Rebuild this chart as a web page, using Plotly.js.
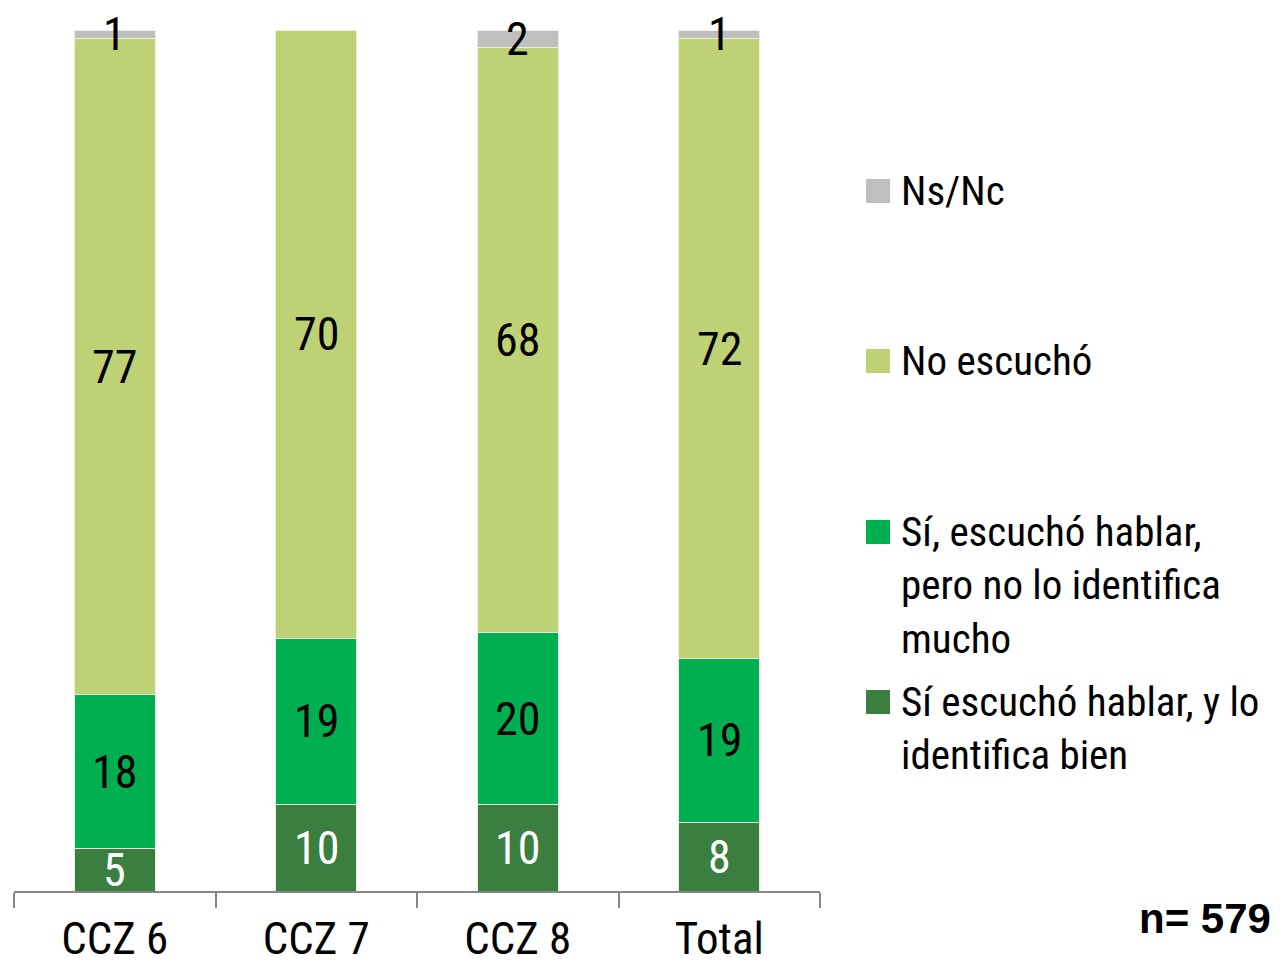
<!DOCTYPE html>
<html>
<head>
<meta charset="utf-8">
<script src="https://cdn.plot.ly/plotly-3.0.1.min.js"></script>
<style>html,body{margin:0;padding:0;background:#fff;}#chart{width:1282px;height:971px;}</style>
</head>
<body>
<div id="chart"></div>
<script>
const categories = ['CCZ 6', 'CCZ 7', 'CCZ 8', 'Total'];
const identificaBien = [5, 10, 10, 8];
const noIdentificaMucho = [18, 19, 20, 19];
const noEscucho = [77, 70, 68, 72];
const nsNc = [1, 0, 2, 1];
const seriesNames = ['Sí escuchó hablar, y lo identifica bien', 'Sí, escuchó hablar, pero no lo identifica mucho', 'No escuchó', 'Ns/Nc'];
const legendLabels = ['Ns/Nc', 'No escuchó', 'Sí, escuchó hablar,<br>pero no lo identifica<br>mucho', 'Sí escuchó hablar, y lo<br>identifica bien'];
const sampleNote = 'n= 579';

const FONT = '"Liberation Sans Narrow", "Roboto Condensed", "DejaVu Sans Condensed", "Arial Narrow", sans-serif';
const series = [identificaBien, noIdentificaMucho, noEscucho, nsNc];
const colors = ['#3B7F40', '#00B050', '#BED175', '#BFBFBF'];
const textColors = ['#ffffff', '#000000', '#000000', '#000000'];

const traces = series.map((vals, i) => ({
  type: 'bar',
  name: seriesNames[i],
  x: categories,
  y: vals,
  marker: {color: colors[i], line: {color: '#e8f0e0', width: 1}},
  hoverinfo: 'x+y+name',
  showlegend: false
}));

const annotations = [];
categories.forEach((c, ci) => {
  const total = series.reduce((s, arr) => s + arr[ci], 0);
  let cum = 0;
  series.forEach((arr, si) => {
    const v = arr[ci];
    const pct = v / total * 100;
    if (v > 0) {
      annotations.push({
        x: c, y: cum + pct / 2, xref: 'x', yref: 'y',
        text: String(v), showarrow: false,
        font: {family: FONT, size: 46, color: textColors[si]},
        xanchor: 'center', yanchor: 'middle'
      });
    }
    cum += pct;
  });
});

// custom legend
const legendColors = [colors[3], colors[2], colors[1], colors[0]];
const legendY = [191, 361, 532, 702];
const shapes = [];
const plotTop = 30, plotBottom = 891, plotLeft = 14, plotRight = 820;
const px2x = px => (px - plotLeft) / (plotRight - plotLeft);
const py2y = py => (plotBottom - py) / (plotBottom - plotTop);
legendLabels.forEach((lab, i) => {
  shapes.push({
    type: 'rect', xref: 'paper', yref: 'paper',
    x0: px2x(866), x1: px2x(890), y0: py2y(legendY[i] + 12), y1: py2y(legendY[i] - 12),
    fillcolor: legendColors[i], line: {width: 0}
  });
  annotations.push({
    xref: 'paper', yref: 'paper', x: px2x(899), y: py2y(legendY[i] - 26),
    xanchor: 'left', yanchor: 'top', align: 'left',
    text: lab, showarrow: false,
    font: {family: FONT, size: 41, color: '#000'}
  });
});
annotations.push({
  xref: 'paper', yref: 'paper', x: px2x(1205), y: py2y(918),
  xanchor: 'center', yanchor: 'middle', text: '<b>' + sampleNote + '</b>', showarrow: false,
  font: {family: '"Liberation Sans", Arial, sans-serif', size: 42, color: '#000'}
});

const layout = {
  width: 1282, height: 971,
  margin: {l: 14, r: 462, t: 30, b: 80},
  paper_bgcolor: '#fff', plot_bgcolor: '#fff',
  barmode: 'stack', barnorm: 'percent', bargap: 0.6,
  xaxis: {
    showline: true, linecolor: '#868686', linewidth: 2,
    ticks: 'outside', tickson: 'boundaries', ticklen: 15, tickwidth: 2, tickcolor: '#868686',
    tickfont: {family: FONT, size: 45, color: '#000'},
    ticklabelstandoff: 7,
    showgrid: false, zeroline: false
  },
  yaxis: {range: [0, 100], visible: false, showgrid: false, zeroline: false, fixedrange: true},
  showlegend: false,
  annotations: annotations,
  shapes: shapes
};

Plotly.newPlot('chart', traces, layout, {displayModeBar: false, staticPlot: true});
</script>
</body>
</html>
